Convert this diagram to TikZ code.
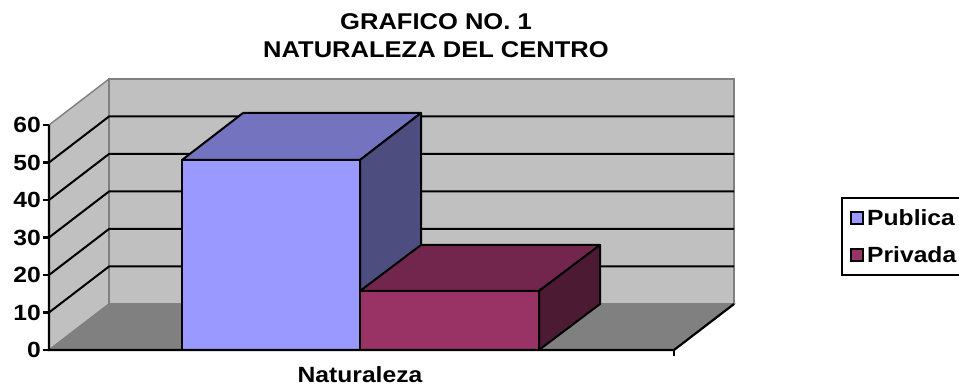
\documentclass[tikz,border=0pt]{standalone}
\usepackage{fontspec}
\newfontfamily\chartfont[FakeStretch=1.12]{Liberation Sans}
\definecolor{wallc}{HTML}{C0C0C0}
\definecolor{floorc}{HTML}{808080}
\definecolor{edgec}{HTML}{808080}
\definecolor{pubfront}{HTML}{9999FF}
\definecolor{pubtop}{HTML}{7373BF}
\definecolor{pubside}{HTML}{4D4D80}
\definecolor{prifront}{HTML}{993366}
\definecolor{pritop}{HTML}{73264D}
\definecolor{priside}{HTML}{4D1A33}
\tikzset{
  wall/.style={fill=wallc, draw=edgec, line width=1.4pt, line join=miter},
  floorface/.style={fill=floorc, draw=edgec, line width=1.2pt},
  grid/.style={draw=black, line width=2pt},
  axis/.style={draw=black, line width=2.2pt},
  barface/.style={draw=black, line width=2pt, line join=round},
  lbl/.style={font=\chartfont\bfseries\fontsize{22}{25}\selectfont, inner sep=0pt},
  tlbl/.style={font=\chartfont\bfseries\fontsize{22.8}{26}\selectfont, inner sep=0pt},
  ylbl/.style={lbl, anchor=east},
  legsq/.style={draw=black, line width=1.6pt},
}
\begin{document}
\begin{tikzpicture}[x=1pt,y=-1pt]
\useasboundingbox (0,0) rectangle (959,387);
% frame corners
\coordinate (FL) at (49,350);   % front left bottom
\coordinate (FT) at (49,125);   % front left top
\coordinate (BL) at (109,304);  % back left bottom
\coordinate (BT) at (109,79);   % back left top
\coordinate (BR) at (734,304);  % back right bottom
\coordinate (BRT) at (734,79);  % back right top
\coordinate (FR) at (674,350);  % front right bottom
% walls and floor
\path[wall] (FL) -- (FT) -- (BT) -- (BL) -- cycle;
\path[wall] (BL) -- (BT) -- (BRT) -- (BR) -- cycle;
\path[floorface] (FL) -- (BL) -- (BR) -- (FR) -- cycle;
% gridlines
\foreach \v in {10,20,30,40,50}{
  \pgfmathsetmacro{\yy}{350-3.75*\v}
  \pgfmathsetmacro{\yb}{\yy-46}
  \draw[grid] (49,\yy) -- (109,\yb) -- (734,\yb);
}
% bars: Publica
\coordinate (PA) at (182,350);
\coordinate (PB) at (182,160);
\coordinate (PC) at (360,160);
\coordinate (PD) at (360,350);
\coordinate (PE) at (243,113);
\coordinate (PF) at (421,113);
\coordinate (PG) at (421,303);
\path[barface, fill=pubtop] (PB) -- (PE) -- (PF) -- (PC) -- cycle;
\path[barface, fill=pubside] (PC) -- (PF) -- (PG) -- (PD) -- cycle;
\path[barface, fill=pubfront] (PA) -- (PB) -- (PC) -- (PD) -- cycle;
% bars: Privada
\coordinate (RA) at (360,350);
\coordinate (RB) at (360,291);
\coordinate (RC) at (539,291);
\coordinate (RD) at (539,350);
\coordinate (RE) at (421,245);
\coordinate (RF) at (600,245);
\coordinate (RG) at (600,304);
\path[barface, fill=pritop] (RB) -- (RE) -- (RF) -- (RC) -- cycle;
\path[barface, fill=priside] (RC) -- (RF) -- (RG) -- (RD) -- cycle;
\path[barface, fill=prifront] (RA) -- (RB) -- (RC) -- (RD) -- cycle;
% axes
\draw[axis] (FT) -- (FL) -- (FR) -- (BR);
\draw[axis] (FR) -- ++(0,6);
\foreach \v in {0,10,...,60}{
  \pgfmathsetmacro{\yy}{350-3.75*\v}
  \draw[axis] (43,\yy) -- (49,\yy);
  \node[ylbl] (y\v) at (41,\yy) {\v};
}
% titles
\node[tlbl] (title1) at (436,22) {GRAFICO NO. 1};
\node[tlbl] (title2) at (436,50) {NATURALEZA DEL CENTRO};
\node[lbl, anchor=base] (xcat) at (360,383) {Naturaleza};
% legend
\draw[draw=black, line width=1.6pt] (842,198) rectangle (965,275);
\draw[legsq, fill=pubfront] (851,212) rectangle (863,224);
\draw[legsq, fill=prifront] (851,249) rectangle (863,261);
\node[lbl, anchor=base west] (legpub) at (867,226) {Publica};
\node[lbl, anchor=base west] (legpri) at (867,263) {Privada};
\end{tikzpicture}
\end{document}
